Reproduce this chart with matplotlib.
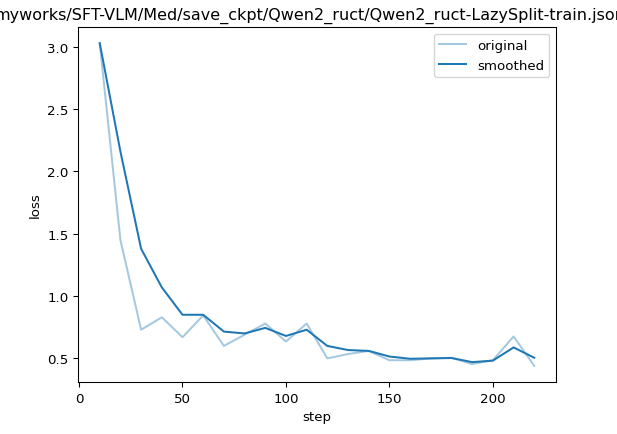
import matplotlib
matplotlib.use('Agg')
import matplotlib.pyplot as plt

steps = [10, 20, 30, 40, 50, 60, 70, 80, 90, 100, 110, 120, 130, 140, 150, 160, 170, 180, 190, 200, 210, 220]
original = [3.03, 1.45, 0.73, 0.83, 0.67, 0.845, 0.60, 0.69, 0.78, 0.635, 0.78, 0.50, 0.535, 0.56, 0.485, 0.485,
            0.50, 0.505, 0.455, 0.485, 0.676, 0.44]
smoothed = [3.03, 2.16, 1.38, 1.07, 0.85, 0.85, 0.715, 0.70, 0.745, 0.68, 0.73, 0.60, 0.567, 0.56, 0.515, 0.497,
            0.50, 0.503, 0.47, 0.482, 0.588, 0.505]
title = 'myworks/SFT-VLM/Med/save_ckpt/Qwen2_ruct/Qwen2_ruct-LazySplit-train.json'

s = 0.964
plt.rcParams['font.size'] = 10 * s
plt.rcParams['lines.linewidth'] = 1.5 * s
for ax_ in ['xtick', 'ytick']:
    plt.rcParams[ax_ + '.major.size'] = 3.5 * s
    plt.rcParams[ax_ + '.major.width'] = 0.8 * s
plt.rcParams['axes.linewidth'] = 0.8 * s

fig = plt.figure(figsize=(6.17, 4.35), dpi=100)
ax = fig.add_axes([78 / 617, 1 - 383 / 435, (556 - 78) / 617, (383 - 28) / 435])

ax.plot(steps, original, color='#1f77b4', alpha=0.4, label='original')
ax.plot(steps, smoothed, color='#1f77b4', label='smoothed')
ax.set_xlabel('step')
ax.set_ylabel('loss')
# title is wider than the figure; shifted a bit left like the reference crop
ax.set_title(title, fontsize=12 * s, pad=6 * s, x=0.5 - 7 / 478)
ax.legend(loc='upper right')

plt.savefig('out.png', dpi=100)
